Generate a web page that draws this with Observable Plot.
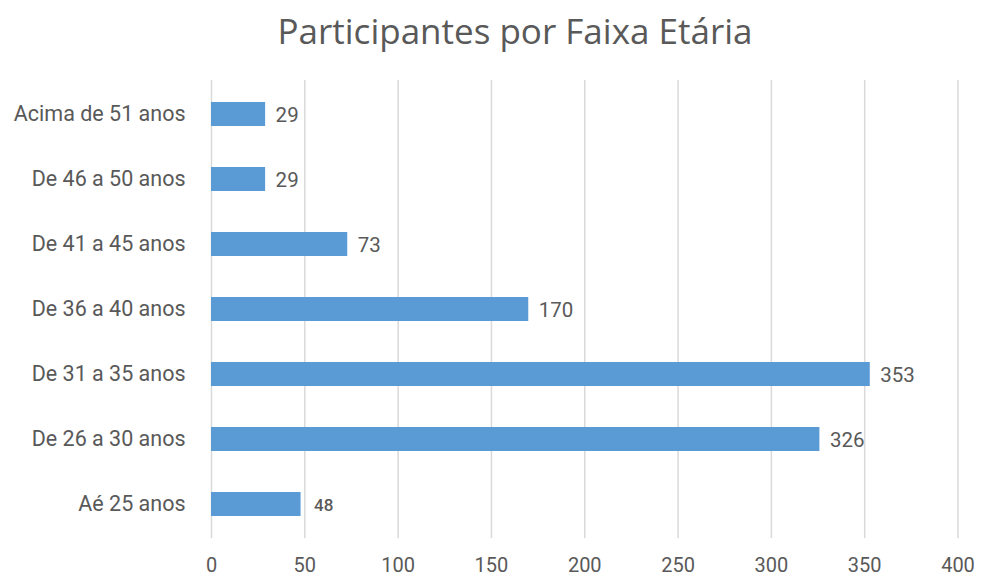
<!DOCTYPE html>
<html>
<head>
<meta charset="utf-8">
<script src="https://cdn.jsdelivr.net/npm/d3@7"></script>
<script src="https://cdn.jsdelivr.net/npm/@observablehq/plot@0.6"></script>
<style>
  html, body { margin: 0; padding: 0; background: #fff; }
  #title { height: 62px; width: 985px; box-sizing: border-box; padding-left: 45px; text-align: center;
    font-family: "Open Sans", sans-serif; font-size: 35px; color: #595959; line-height: 62px; }
  svg { display: block; }
</style>
</head>
<body>
<div id="title">Participantes por Faixa Etária</div>
<div id="chart"></div>
<script>
const categories = ["Acima de 51 anos", "De 46 a 50 anos", "De 41 a 45 anos", "De 36 a 40 anos", "De 31 a 35 anos", "De 26 a 30 anos", "Aé 25 anos"];
const values = [29, 29, 73, 170, 353, 326, 48];
const xTicks = [0, 50, 100, 150, 200, 250, 300, 350, 400];

const data = categories.map((c, i) => ({category: c, value: values[i], small: c === "Aé 25 anos"}));

const chart = Plot.plot({
  width: 985,
  height: 515,
  marginTop: 18,
  marginBottom: 39,
  marginLeft: 211,
  marginRight: 27.5,
  style: {fontFamily: "Roboto, sans-serif", fontSize: "19px", color: "#595959", background: "#fff"},
  x: {domain: [0, 400], ticks: xTicks, tickSize: 0, tickPadding: 18, label: null},
  y: {domain: categories, paddingInner: 0.63, paddingOuter: 0.315, tickSize: 0, tickPadding: 26, label: null},
  marks: [
    Plot.gridX(xTicks, {stroke: "#d9d9d9", strokeOpacity: 1, strokeWidth: 1.5}),
    Plot.barX(data, {x: "value", y: "category", fill: "#5b9bd5"}),
    Plot.axisY({tickSize: 0, tickPadding: 26, fontSize: 21.5, fill: "#595959"}),
    Plot.axisX({ticks: xTicks, tickSize: 0, tickPadding: 19, fontSize: 20, fill: "#595959", label: null}),
    Plot.text(data.filter(d => !d.small), {x: "value", y: "category", text: d => String(d.value), dx: 10, dy: 1, textAnchor: "start", fontSize: 20.5, fill: "#595959"}),
    Plot.text(data.filter(d => d.small), {x: "value", y: "category", text: d => String(d.value), dx: 13, dy: 1, textAnchor: "start", fontSize: 17, fontWeight: 500, fill: "#595959"})
  ]
});
document.getElementById("chart").appendChild(chart);
</script>
</body>
</html>
